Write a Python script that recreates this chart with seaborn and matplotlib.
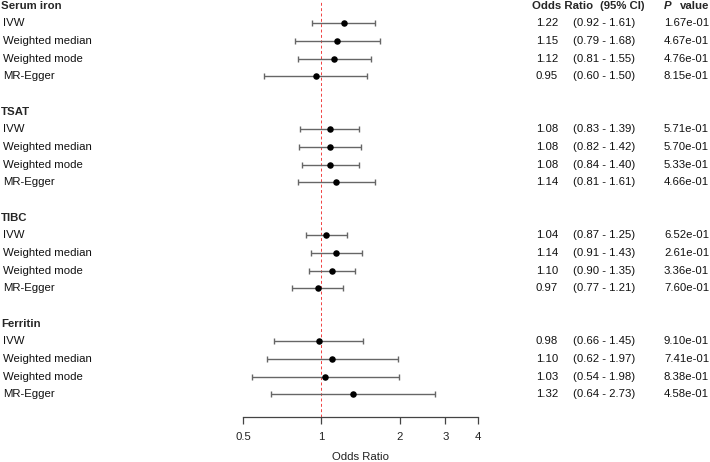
import numpy as np
import pandas as pd
import matplotlib
matplotlib.use("Agg")
import matplotlib.pyplot as plt
import matplotlib.transforms as mtransforms
import seaborn as sns

groups = ["Serum iron", "TSAT", "TIBC", "Ferritin"]
methods = ["IVW", "Weighted median", "Weighted mode", "MR-Egger"]
or_vals = [1.22, 1.15, 1.12, 0.95,
           1.08, 1.08, 1.08, 1.14,
           1.04, 1.14, 1.10, 0.97,
           0.98, 1.10, 1.03, 1.32]
ci_low = [0.92, 0.79, 0.81, 0.60,
          0.83, 0.82, 0.84, 0.81,
          0.87, 0.91, 0.90, 0.77,
          0.66, 0.62, 0.54, 0.64]
ci_high = [1.61, 1.68, 1.55, 1.50,
           1.39, 1.42, 1.40, 1.61,
           1.25, 1.43, 1.35, 1.21,
           1.45, 1.97, 1.98, 2.73]
p_vals = ["1.67e-01", "4.67e-01", "4.76e-01", "8.15e-01",
          "5.71e-01", "5.70e-01", "5.33e-01", "4.66e-01",
          "6.52e-01", "2.61e-01", "3.36e-01", "7.60e-01",
          "9.10e-01", "7.41e-01", "8.38e-01", "4.58e-01"]
x_ticks = [0.5, 1, 2, 3, 4]
x_ticklabels = ["0.5", "1", "2", "3", "4"]

# one header row + 4 method rows + blank row per exposure
rows = []
for gi, g in enumerate(groups):
    for mi, m in enumerate(methods):
        rows.append((g, m, gi * 6 + 1 + mi))
df = pd.DataFrame(rows, columns=["group", "method", "row"])
df["OR"] = or_vals
df["lo"] = ci_low
df["hi"] = ci_high
df["p"] = p_vals

sns.set_style("white")
plt.rcParams["font.family"] = ["Liberation Sans", "DejaVu Sans"]
fs = 8.2

fig = plt.figure(figsize=(7.1, 4.62), dpi=100)
W, H = 710.0, 462.0
ax = fig.add_axes([243 / W, 1 - 417 / H, 235 / W, 417 / H])

row_px = 17.67
ax.set_ylim(417 / row_px - 5.7 / row_px, -5.7 / row_px)
ax.set_xscale("log")
ax.set_xlim(0.5, 4)

ax.axvline(1, color="#f04040", lw=0.7, ls=(0, (3, 2.5)), zorder=1)
ax.errorbar(df["OR"], df["row"],
            xerr=[df["OR"] - df["lo"], df["hi"] - df["OR"]],
            fmt="none", ecolor="#666666", elinewidth=1.0, capsize=2.0,
            capthick=1.0, zorder=2)
sns.scatterplot(data=df, x="OR", y="row", color="black", s=22,
                edgecolor="black", linewidth=0, ax=ax, zorder=3, legend=False)

for s in ["top", "right", "left"]:
    ax.spines[s].set_visible(False)
ax.spines["bottom"].set_color("#444444")
ax.spines["bottom"].set_linewidth(0.9)
ax.set_yticks([])
ax.set_xticks(x_ticks)
ax.set_xticklabels(x_ticklabels, fontsize=fs)
ax.xaxis.set_minor_locator(matplotlib.ticker.NullLocator())
ax.tick_params(axis="x", bottom=True, length=5, width=0.9, color="#444444",
               pad=6, labelcolor="#222222")
ax.set_xlabel("Odds Ratio", fontsize=fs, color="#222222", labelpad=7)
ax.set_ylabel("")

tr = mtransforms.blended_transform_factory(fig.transFigure, ax.transData)
def fx(px):
    return px / W

# column headers
hdr_row = 0
ax.text(fx(532), hdr_row, "Odds Ratio", transform=tr, fontsize=fs,
        fontweight="bold", va="center", ha="left")
ax.text(fx(600), hdr_row, "(95% CI)", transform=tr, fontsize=fs,
        fontweight="bold", va="center", ha="left")
ax.text(fx(664), hdr_row, "P", transform=tr, fontsize=fs,
        fontweight="bold", fontstyle="italic", va="center", ha="left")
ax.text(fx(680), hdr_row, "value", transform=tr, fontsize=fs,
        fontweight="bold", va="center", ha="left")

for gi, g in enumerate(groups):
    ax.text(fx(1), gi * 6, g, transform=tr, fontsize=fs, fontweight="bold",
            va="center", ha="left")

for _, r in df.iterrows():
    ax.text(fx(3), r["row"], r["method"], transform=tr, fontsize=fs,
            va="center", ha="left", color="#111111")
    ax.text(fx(558), r["row"], f"{r['OR']:.2f}", transform=tr, fontsize=fs,
            va="center", ha="right", color="#111111")
    ax.text(fx(573), r["row"], f"({r['lo']:.2f} - {r['hi']:.2f})", transform=tr,
            fontsize=fs, va="center", ha="left", color="#111111")
    ax.text(fx(664), r["row"], r["p"], transform=tr, fontsize=fs,
            va="center", ha="left", color="#111111")

fig.savefig("out.png", dpi=100)
